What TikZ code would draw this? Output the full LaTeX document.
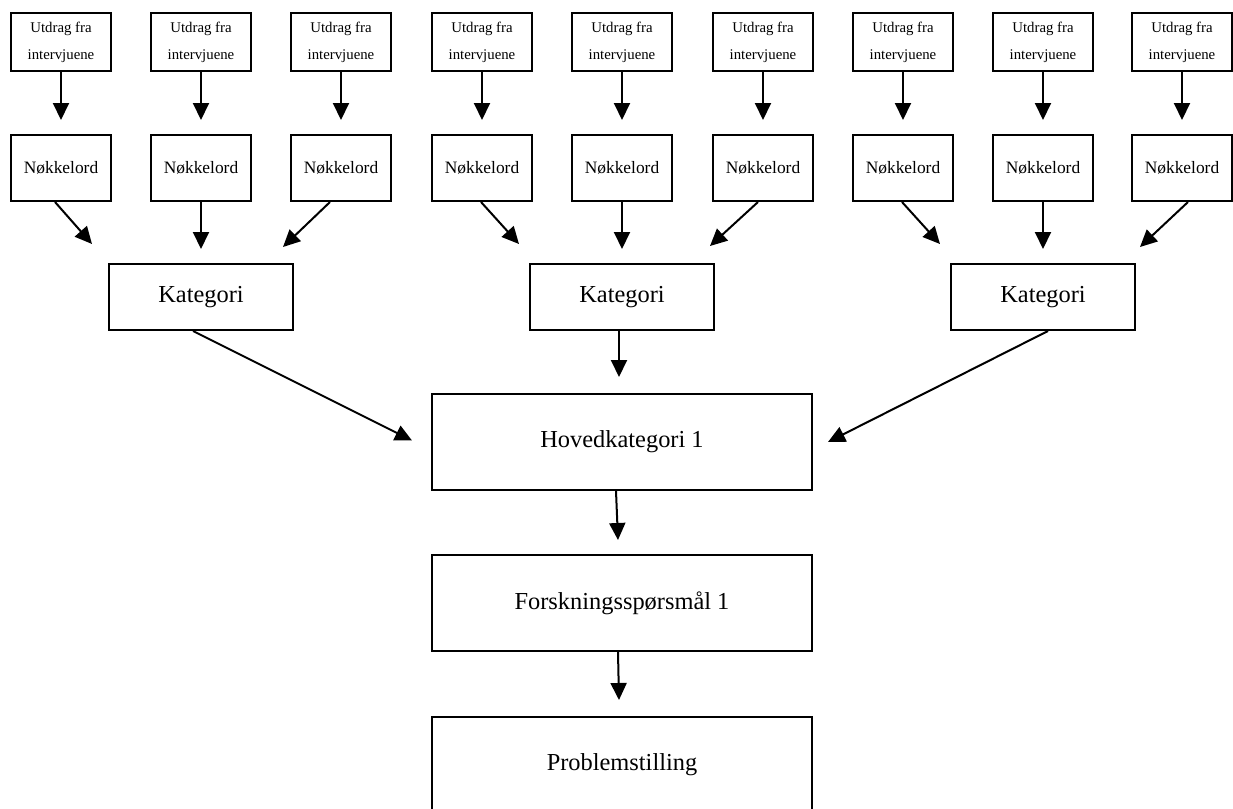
\documentclass[tikz,border=0pt]{standalone}
\usepackage{fontspec}
\setmainfont{Liberation Serif}
\usetikzlibrary{arrows.meta,calc}
\begin{document}
\begin{tikzpicture}[x=0.5pt,y=-0.5pt,
  box/.style={draw, line width=1pt, inner sep=0pt, align=center},
  utd/.style={box, minimum width=50pt, minimum height=29pt, font=\fontsize{7.4}{13.5}\selectfont},
  nok/.style={box, minimum width=50pt, minimum height=33pt, font=\fontsize{8.7}{10}\selectfont},
  kat/.style={box, minimum width=92pt, minimum height=33pt, font=\fontsize{12.2}{14}\selectfont},
  big/.style={box, minimum width=190pt, minimum height=48pt, font=\fontsize{12.2}{14}\selectfont},
  arr/.style={line width=1pt, -{Triangle[length=8.5pt,width=8pt]}}
]
\useasboundingbox (0,0) rectangle (1233,809);
\clip (0,0) rectangle (1233,809);
% columns
\foreach \cx [count=\i] in {61,201,341,482,622,763,903,1043,1182}{
  \node[utd] (u\i) at (\cx,42) {Utdrag fra\\intervjuene};
  \node[nok] (n\i) at (\cx,168) {Nøkkelord};
  \draw[arr] (u\i.south) -- ($(n\i.north)+(0,-14)$);
}
\node[kat] (k1) at (201,297) {Kategori};
\node[kat] (k2) at (622,297) {Kategori};
\node[kat] (k3) at (1043,297) {Kategori};
\node[big] (h) at (622,442) {Hovedkategori 1};
\node[big] (f) at (622,603) {Forskningsspørsmål 1};
\node[big] (p) at (622,765) {Problemstilling};
% keyword -> category
\draw[arr] ($(n1.south)+(-6,0)$) -- ($(k1.north)+(-109,-19)$);
\draw[arr] (n2.south) -- ($(k1.north)+(0,-14)$);
\draw[arr] ($(n3.south)+(-11,0)$) -- ($(k1.north)+(82,-16)$);
\draw[arr] ($(n4.south)+(-1,0)$) -- ($(k2.north)+(-103,-19)$);
\draw[arr] (n5.south) -- ($(k2.north)+(0,-14)$);
\draw[arr] ($(n6.south)+(-5,0)$) -- ($(k2.north)+(88,-17)$);
\draw[arr] ($(n7.south)+(-1,0)$) -- ($(k3.north)+(-103,-19)$);
\draw[arr] (n8.south) -- ($(k3.north)+(0,-14)$);
\draw[arr] ($(n9.south)+(6,0)$) -- ($(k3.north)+(97,-16)$);
% category -> main
\draw[arr] ($(k1.south)+(-8,0)$) -- ($(h.west)+(-19,-1.5)$);
\draw[arr] ($(k2.south)+(-3,0)$) -- ($(h.north)+(-3,-16)$);
\draw[arr] ($(k3.south)+(5,0)$) -- ($(h.east)+(15,0)$);
\draw[arr] ($(h.south)+(-6,0)$) -- ($(f.north)+(-4,-14)$);
\draw[arr] ($(f.south)+(-4,0)$) -- ($(p.north)+(-3,-16)$);
\end{tikzpicture}
\end{document}
